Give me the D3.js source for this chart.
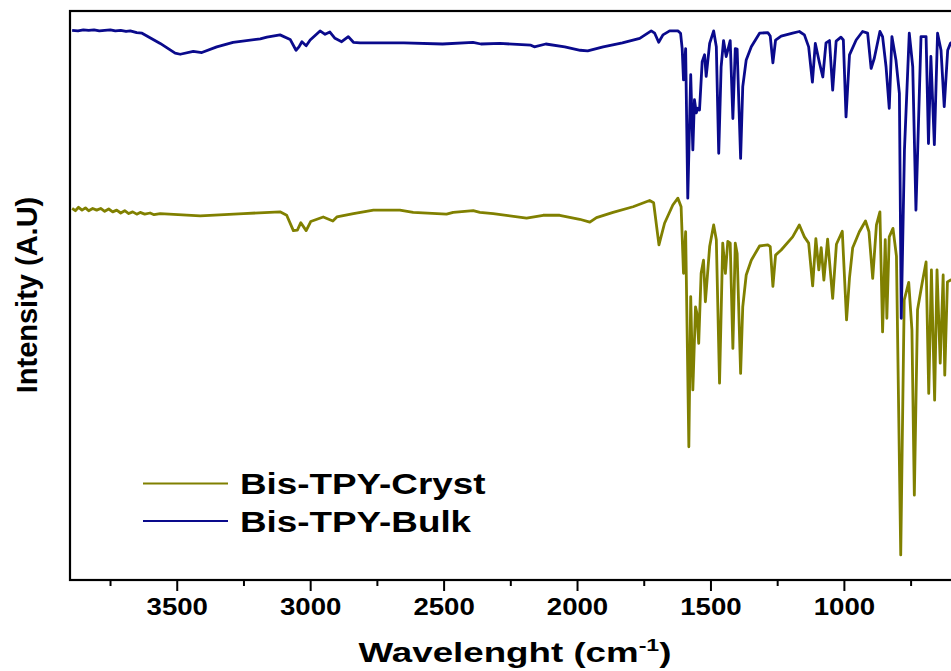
<meta charset="UTF-8">
<head>
  <script src="https://d3js.org/d3.v7.min.js"></script>
  <style>
    body { margin: 0; background: #fff; }
    svg { display: block; overflow: hidden; }
    text { font-family: "Liberation Sans", Arial, sans-serif; font-weight: bold; fill: #000; }
  </style>
</head>
<body>
  <svg id="svg" width="951" height="671"></svg>
  <script>
    // series names + colours (legend order)
    const seriesNames = ["Bis-TPY-Cryst", "Bis-TPY-Bulk"];
    const seriesColors = ["#808000", "#0a0a8c"];

    // x ticks (cm-1), reversed axis
    const majorTicks = [3500, 3000, 2500, 2000, 1500, 1000];
    const minorTicks = [3750, 3250, 2750, 2250, 1750, 1250, 750];

    // Bis-TPY-Bulk
    const bulkWavenumber = [3892, 3870, 3850, 3830, 3810, 3790, 3770, 3749, 3730, 3710, 3690, 3674, 3650, 3630,
      3562, 3506, 3487, 3438, 3406, 3350, 3289, 3187, 3162, 3113, 3075, 3053, 3042, 3031, 3015, 3000,
      2963, 2944, 2926, 2907, 2882, 2857, 2838, 2813, 2649, 2504, 2390, 2360, 2289, 2173, 2160, 2117,
      2046, 1988, 1960, 1902, 1830, 1765, 1722, 1709, 1694, 1678, 1653, 1622, 1612, 1606, 1601, 1593,
      1585, 1574, 1566, 1560, 1553, 1547, 1541, 1531, 1522, 1516, 1503, 1488, 1478, 1469, 1460, 1451,
      1441, 1426, 1416, 1407, 1400, 1387, 1379, 1366, 1347, 1316, 1285, 1276, 1266, 1256, 1235, 1192,
      1167, 1148, 1132, 1118, 1107, 1092, 1079, 1067, 1054, 1042, 1029, 1011, 1002, 992, 979, 954,
      930, 911, 898, 886, 865, 855, 842, 830, 820, 805, 792, 785, 773, 755, 742, 730, 711, 692,
      683, 674, 661, 649, 636, 624, 611, 601, 580];
    const bulkIntensity = [96.6, 96.5, 96.7, 96.6, 96.7, 96.5, 96.6, 96.7, 96.5, 96.6, 96.4, 96.5, 96.2, 96.1,
      94.3, 92.6, 92.4, 92.9, 92.7, 93.7, 94.5, 95.1, 95.4, 95.8, 95.0, 93.1, 93.7, 94.6, 93.9, 94.9,
      96.5, 95.9, 96.3, 95.2, 94.6, 95.5, 94.5, 94.4, 94.4, 94.2, 94.5, 94.2, 94.3, 94.0, 93.7, 94.2,
      93.7, 93.1, 93.0, 93.7, 94.4, 95.2, 96.5, 96.1, 94.5, 95.8, 96.5, 96.5, 96.1, 93.4, 87.9, 93.4,
      67.1, 88.8, 75.6, 84.4, 82.1, 82.9, 82.6, 91.1, 92.3, 88.5, 94.3, 96.5, 93.7, 75.0, 90.2, 94.8,
      92.0, 94.8, 81.1, 93.4, 93.3, 74.1, 86.7, 91.4, 93.7, 96.1, 96.2, 95.6, 90.9, 94.9, 95.6, 96.1,
      96.4, 95.8, 93.7, 87.5, 94.3, 91.0, 88.4, 94.4, 94.8, 86.1, 94.7, 95.4, 94.9, 81.4, 92.3, 94.9,
      96.4, 96.1, 89.9, 91.7, 96.4, 95.5, 90.2, 82.9, 95.5, 91.4, 85.5, 46.0, 75.6, 96.1, 90.2, 65.0, 95.5, 95.5,
      76.7, 92.0, 76.5, 96.1, 93.1, 83.2, 93.1, 94.3, 95.0];

    // Bis-TPY-Cryst
    const crystWavenumber = [3892, 3880, 3868, 3855, 3842, 3830, 3815, 3800, 3785, 3770, 3755, 3740, 3725, 3710,
      3695, 3680, 3665, 3650, 3637, 3620, 3600, 3585, 3562, 3412, 3250, 3113, 3088, 3063, 3048, 3035,
      3015, 2998, 2951, 2915, 2900, 2838, 2763, 2664, 2614, 2489, 2464, 2389, 2364, 2314, 2189, 2127,
      2065, 1990, 1952, 1927, 1865, 1790, 1728, 1713, 1693, 1672, 1641, 1622, 1610, 1601, 1593, 1581,
      1574, 1566, 1556, 1551, 1544, 1535, 1526, 1519, 1503, 1488, 1478, 1466, 1454, 1444, 1435, 1426,
      1416, 1407, 1400, 1387, 1379, 1366, 1347, 1316, 1285, 1276, 1266, 1256, 1235, 1192, 1167, 1148,
      1132, 1117, 1105, 1094, 1085, 1075, 1061, 1042, 1028, 1006, 990, 979, 967, 942, 919, 906,
      892, 878, 865, 855, 845, 839, 830, 816, 803, 787, 774, 757, 745, 736, 724, 707,
      692, 682, 672, 660, 651, 639, 628, 622, 612, 601, 580];
    const crystIntensity = [65.3, 64.9, 65.5, 65.0, 65.4, 64.9, 65.3, 65.0, 65.3, 64.8, 65.2, 64.7, 65.0, 64.5,
      64.9, 64.4, 64.7, 64.3, 64.6, 64.3, 64.5, 64.2, 64.4, 64.0, 64.4, 64.7, 64.1, 61.4, 61.5, 62.8,
      61.4, 63.0, 63.8, 63.1, 63.8, 64.4, 65.0, 65.0, 64.6, 64.3, 64.6, 64.9, 64.6, 64.4, 63.6, 64.1,
      64.1, 63.4, 62.9, 63.7, 64.6, 65.6, 66.7, 66.3, 58.9, 62.7, 65.9, 67.1, 65.6, 53.9, 61.2, 23.4,
      49.8, 33.4, 48.0, 46.9, 41.6, 53.9, 56.2, 48.9, 58.6, 62.4, 59.8, 34.6, 59.2, 53.9, 59.5, 59.2,
      40.7, 59.2, 57.4, 36.3, 48.0, 53.6, 56.2, 58.7, 58.9, 58.6, 51.6, 57.1, 58.0, 60.3, 62.4, 60.3,
      59.2, 51.7, 60.0, 54.5, 58.4, 52.7, 59.9, 49.5, 59.0, 61.3, 45.7, 53.1, 58.4, 61.2, 63.1, 61.2,
      53.0, 62.4, 64.7, 43.6, 59.8, 46.0, 60.3, 61.8, 56.9, 4.4, 49.2, 52.3, 43.9, 14.9, 47.5, 52.1,
      55.9, 32.8, 54.5, 31.6, 54.5, 38.1, 53.6, 36.0, 52.4, 52.7, 53.0];

    const padL = 70, padT = 11, padR = 1004, padB = 580;
    const svg = d3.select("#svg");

    const x = d3.scaleLinear().domain([3900, 400]).range([padL, padR]);
    const y = d3.scaleLinear().domain([0, 100]).range([padB, padT]);

    const series = [
      { name: seriesNames[0], color: seriesColors[0], pts: d3.zip(crystWavenumber, crystIntensity) },
      { name: seriesNames[1], color: seriesColors[1], pts: d3.zip(bulkWavenumber, bulkIntensity) }
    ];

    const line = d3.line().x(d => x(d[0])).y(d => y(d[1]));

    svg.selectAll("path.spec")
      .data(series)
      .enter().append("path")
      .attr("class", "spec")
      .attr("d", d => line(d.pts))
      .attr("fill", "none")
      .attr("stroke", d => d.color)
      .attr("stroke-width", 2.8)
      .attr("stroke-linejoin", "round");

    // frame
    svg.append("rect")
      .attr("x", padL).attr("y", padT)
      .attr("width", padR - padL).attr("height", padB - padT)
      .attr("fill", "none").attr("stroke", "#000").attr("stroke-width", 2.2);

    // bottom axis: major + minor ticks
    const xAxis = d3.axisBottom(x).tickValues(majorTicks).tickSize(11).tickPadding(7).tickFormat(d3.format("d"));
    const gx = svg.append("g").attr("transform", `translate(0,${padB})`).call(xAxis);
    gx.select(".domain").remove();
    gx.selectAll(".tick line").attr("stroke-width", 2);
    gx.selectAll(".tick text")
      .attr("font-size", 24)
      .attr("transform", "scale(1.15,1)");
    gx.attr("font-family", null).attr("font-size", null);

    const gm = svg.append("g").attr("transform", `translate(0,${padB})`)
      .call(d3.axisBottom(x).tickValues(minorTicks).tickSize(6).tickFormat(""));
    gm.select(".domain").remove();
    gm.selectAll(".tick line").attr("stroke-width", 2);

    // axis titles
    const xt = svg.append("g").attr("transform", "translate(515,662) scale(1.36,1)")
      .append("text").attr("text-anchor", "middle").attr("font-size", 27);
    xt.append("tspan").text("Wavelenght (cm");
    xt.append("tspan").attr("font-size", 17).attr("dy", -11).text("-1");
    xt.append("tspan").attr("dy", 11).text(")");

    svg.append("text")
      .attr("transform", "translate(37,295) rotate(-90)")
      .attr("text-anchor", "middle")
      .attr("font-size", 29)
      .text("Intensity (A.U)");

    // legend
    const lg = svg.append("g").selectAll("g")
      .data(series)
      .enter().append("g")
      .attr("transform", (d, i) => `translate(143,${483.5 + i * 37.5})`);
    lg.append("line").attr("x1", 0).attr("x2", 85)
      .attr("stroke", d => d.color).attr("stroke-width", 2);
    lg.append("text")
      .attr("transform", "translate(97,10.5) scale(1.27,1)")
      .attr("font-size", 29)
      .text(d => d.name);
  </script>
</body>
